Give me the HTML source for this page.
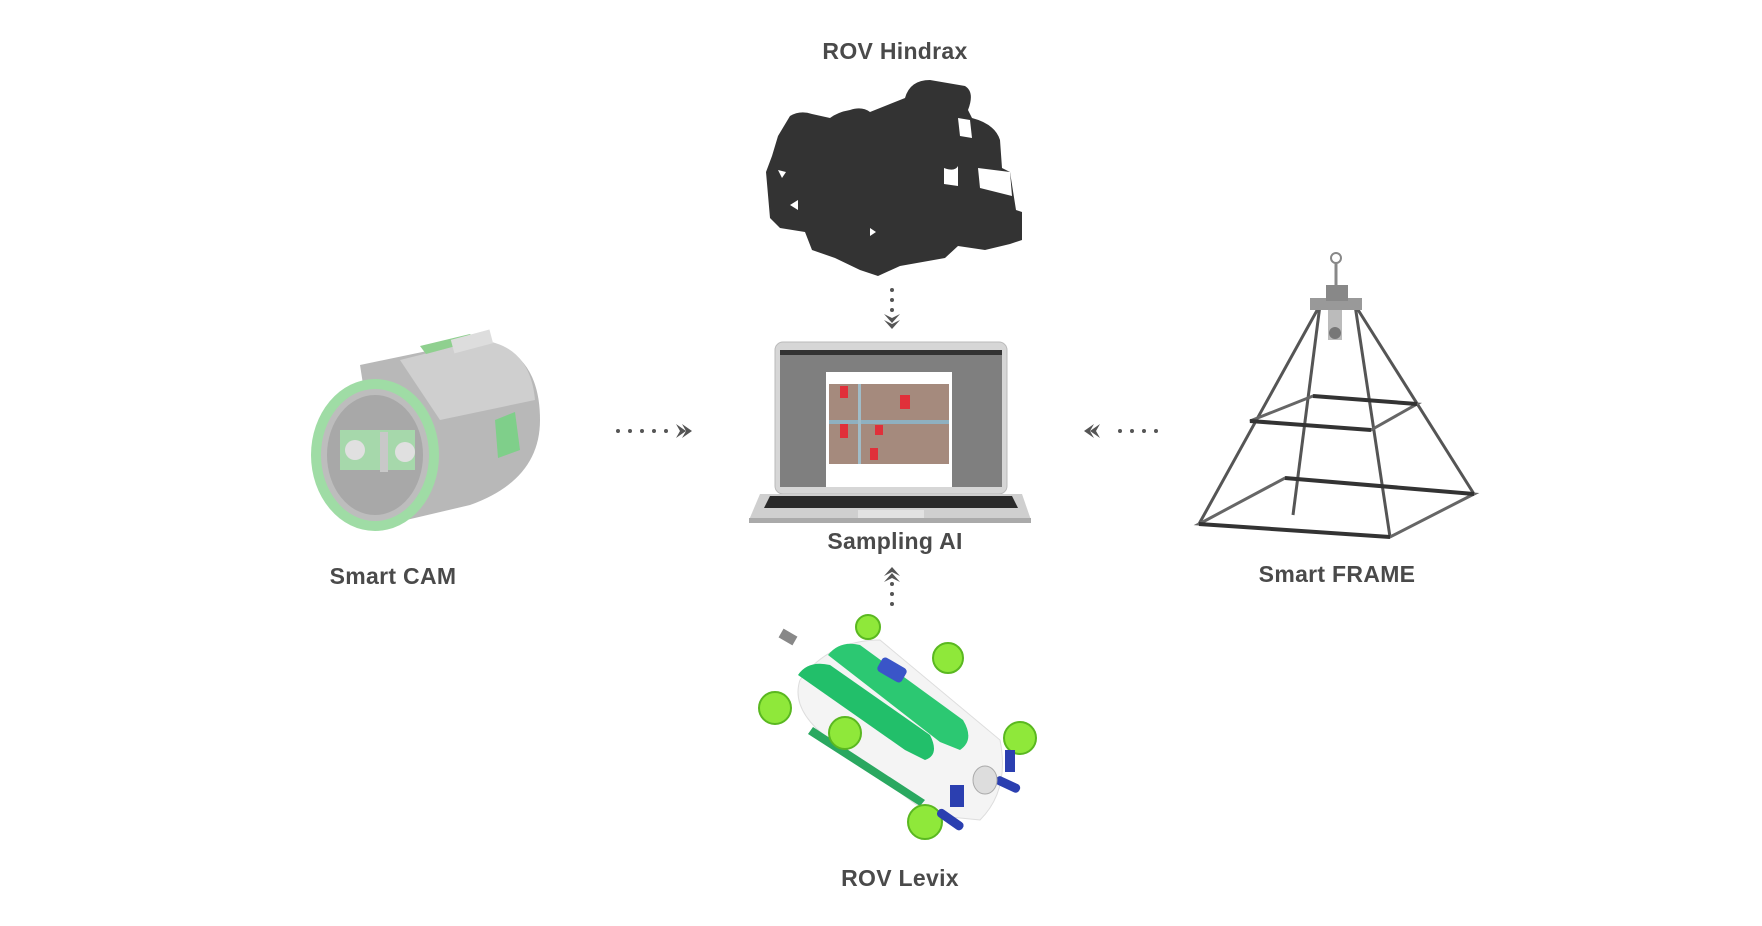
<!DOCTYPE html>
<html><head><meta charset="utf-8"><style>
html,body{margin:0;padding:0;background:#fff;}
body{width:1762px;height:926px;position:relative;overflow:hidden;font-family:"Liberation Sans",sans-serif;}
.t{position:absolute;font-weight:bold;font-size:23px;color:#4a4a4a;transform:translateX(-50%);white-space:nowrap;letter-spacing:0.3px;}
svg{position:absolute;left:0;top:0;}
</style></head><body>
<svg width="1762" height="926" viewBox="0 0 1762 926">
<!-- ROV Hindrax silhouette -->
<g fill="#333">
<path d="M790 116 Q800 110 812 114 L830 118 Q838 112 850 110 Q862 106 870 112 L905 98 Q910 80 930 80 L965 86 Q975 92 968 110 L972 118 Q995 124 1000 140 L1002 168 L1010 172 L1016 210 L1022 212 L1022 240 L1010 244 L985 250 L958 246 L945 258 L900 266 L878 276 L860 270 L835 258 L812 250 L805 232 L780 228 L770 218 L766 172 L772 156 L778 136 Z"/>
</g>
<g fill="#fff">
<path d="M958 118 L970 120 L972 138 L960 136 Z"/>
<path d="M978 168 L1010 172 L1012 196 L980 188 Z"/>
<path d="M944 168 Q955 172 958 166 L958 186 L944 184 Z"/>
<path d="M778 170 L786 172 L782 178 Z"/>
<path d="M790 205 L798 200 L798 210 Z"/>
<path d="M870 228 L876 232 L870 236 Z"/>
</g>
<!-- dotted arrows -->
<g fill="#555">
<circle cx="892" cy="290" r="2"/><circle cx="892" cy="300" r="2"/><circle cx="892" cy="310" r="2"/>
<path d="M884 314 L892 323 L900 314 L892 318 Z"/><path d="M884 320 L892 329 L900 320 L892 324 Z"/>
<circle cx="892" cy="604" r="2"/><circle cx="892" cy="594" r="2"/><circle cx="892" cy="584" r="2"/>
<path d="M884 576 L892 567 L900 576 L892 572 Z"/><path d="M884 582 L892 573 L900 582 L892 578 Z"/>
<circle cx="618" cy="431" r="2"/><circle cx="630" cy="431" r="2"/><circle cx="642" cy="431" r="2"/><circle cx="654" cy="431" r="2"/><circle cx="666" cy="431" r="2"/>
<path d="M676 424 L686 431 L676 438 L680 431 Z"/><path d="M682 424 L692 431 L682 438 L686 431 Z"/>
<circle cx="1156" cy="431" r="2"/><circle cx="1144" cy="431" r="2"/><circle cx="1132" cy="431" r="2"/><circle cx="1120" cy="431" r="2"/>
<path d="M1094 424 L1084 431 L1094 438 L1090 431 Z"/><path d="M1100 424 L1090 431 L1100 438 L1096 431 Z"/>
</g>
<!-- Laptop -->
<rect x="775" y="342" width="232" height="152" rx="8" fill="#d6d6d6" stroke="#bbb"/>
<rect x="780" y="350" width="222" height="137" fill="#7f7f7f"/>
<rect x="780" y="350" width="222" height="5" fill="#333"/>
<rect x="826" y="372" width="126" height="115" fill="#fff"/>
<rect x="829" y="384" width="120" height="80" fill="#9a8a80"/>
<rect x="829" y="384" width="120" height="80" fill="#b08a7a" opacity="0.5"/>
<rect x="829" y="420" width="120" height="4" fill="#8fb0c0"/>
<rect x="858" y="384" width="3" height="80" fill="#a0bcc8"/>
<g fill="#e0303a"><rect x="840" y="386" width="8" height="12"/><rect x="900" y="395" width="10" height="14"/><rect x="840" y="424" width="8" height="14"/><rect x="875" y="425" width="8" height="10"/><rect x="870" y="448" width="8" height="12"/></g>
<path d="M760 494 L1022 494 L1031 520 L749 520 Z" fill="#cfcfcf"/>
<path d="M770 496 L1012 496 L1018 508 L764 508 Z" fill="#2a2a2a"/>
<rect x="749" y="518" width="282" height="5" fill="#aaa"/>
<rect x="858" y="510" width="66" height="8" fill="#e2e2e2"/>
<!-- Smart CAM -->
<g>
<path d="M360 365 L480 340 Q540 350 540 420 Q540 480 470 505 L385 525 Z" fill="#b8b8b8"/>
<path d="M400 360 L480 340 Q530 345 535 400 L440 420 Z" fill="#cfcfcf"/>
<path d="M420 346 L470 334 L478 340 L426 354 Z" fill="#8fd08f"/>
<rect x="452" y="335" width="40" height="14" fill="#ddd" transform="rotate(-15 470 342)"/>
<path d="M495 420 L515 412 L520 450 L498 458 Z" fill="#7fcf8a"/>
<ellipse cx="375" cy="455" rx="64" ry="76" fill="#9fdca5"/>
<ellipse cx="375" cy="455" rx="54" ry="66" fill="#bdbdbd"/>
<ellipse cx="375" cy="455" rx="48" ry="60" fill="#a8a8a8"/>
<rect x="340" y="430" width="75" height="40" fill="#a6d8ab"/>
<circle cx="355" cy="450" r="10" fill="#e0e0e0"/><circle cx="405" cy="452" r="10" fill="#e0e0e0"/>
<rect x="380" y="432" width="8" height="40" fill="#c8c8c8"/>
</g>
<!-- Smart FRAME -->
<g stroke="#555" stroke-width="3" fill="none">
<line x1="1320" y1="305" x2="1199" y2="524"/>
<line x1="1355" y1="305" x2="1474" y2="494"/>
<line x1="1320" y1="305" x2="1293" y2="515"/>
<line x1="1355" y1="305" x2="1390" y2="537"/>
<path d="M1199 524 L1390 537 L1474 494 L1285 478 Z" stroke="#666"/>
<path d="M1250 421 L1371 430 L1417 404 L1313 396 Z" stroke="#666"/>
</g>
<g stroke="#333" stroke-width="4"><line x1="1199" y1="524" x2="1390" y2="537"/><line x1="1250" y1="421" x2="1371" y2="430"/><line x1="1285" y1="478" x2="1474" y2="494"/><line x1="1313" y1="396" x2="1417" y2="404"/></g>
<rect x="1310" y="298" width="52" height="12" fill="#999"/>
<rect x="1326" y="285" width="22" height="16" fill="#888"/>
<rect x="1328" y="310" width="14" height="30" fill="#bbb"/>
<circle cx="1335" cy="333" r="6" fill="#777"/>
<path d="M1336 285 L1336 262" stroke="#888" stroke-width="3"/>
<circle cx="1336" cy="258" r="5" fill="none" stroke="#888" stroke-width="2"/>
<!-- ROV Levix -->
<g>
<path d="M800 680 Q830 640 880 640 L1000 740 Q1010 790 980 820 L930 815 L830 740 Q790 710 800 680 Z" fill="#f4f4f4" stroke="#ddd"/>
<path d="M828 655 Q840 640 860 645 L963 720 Q975 740 960 750 L940 742 Z" fill="#2cc872"/>
<path d="M798 675 Q808 660 830 665 L930 735 Q940 755 925 760 L905 750 Z" fill="#22bf6a"/>
<rect x="878" y="662" width="28" height="16" rx="4" fill="#3a55c8" transform="rotate(30 892 670)"/>
<path d="M813 727 L925 800 L920 806 L808 734 Z" fill="#2aa860"/>
<rect x="780" y="632" width="16" height="10" fill="#888" transform="rotate(30 788 637)"/>
<g fill="#8fe83a" stroke="#5ab820" stroke-width="2">
<circle cx="775" cy="708" r="16"/><circle cx="845" cy="733" r="16"/><circle cx="868" cy="627" r="12"/>
<circle cx="948" cy="658" r="15"/><circle cx="1020" cy="738" r="16"/><circle cx="925" cy="822" r="17"/>
</g>
<g fill="#2b3fb0"><rect x="950" y="785" width="14" height="22"/><rect x="1005" y="750" width="10" height="22"/><rect x="995" y="780" width="26" height="9" rx="4" transform="rotate(25 1008 784)"/><rect x="935" y="815" width="30" height="9" rx="4" transform="rotate(35 950 820)"/></g>
<ellipse cx="985" cy="780" rx="12" ry="14" fill="#ddd" stroke="#aaa"/>
</g>
</svg>
<div class="t" style="left:895px;top:38px;">ROV Hindrax</div>
<div class="t" style="left:895px;top:528px;">Sampling AI</div>
<div class="t" style="left:393px;top:563px;">Smart CAM</div>
<div class="t" style="left:1337px;top:561px;">Smart FRAME</div>
<div class="t" style="left:900px;top:865px;">ROV Levix</div>
</body></html>
